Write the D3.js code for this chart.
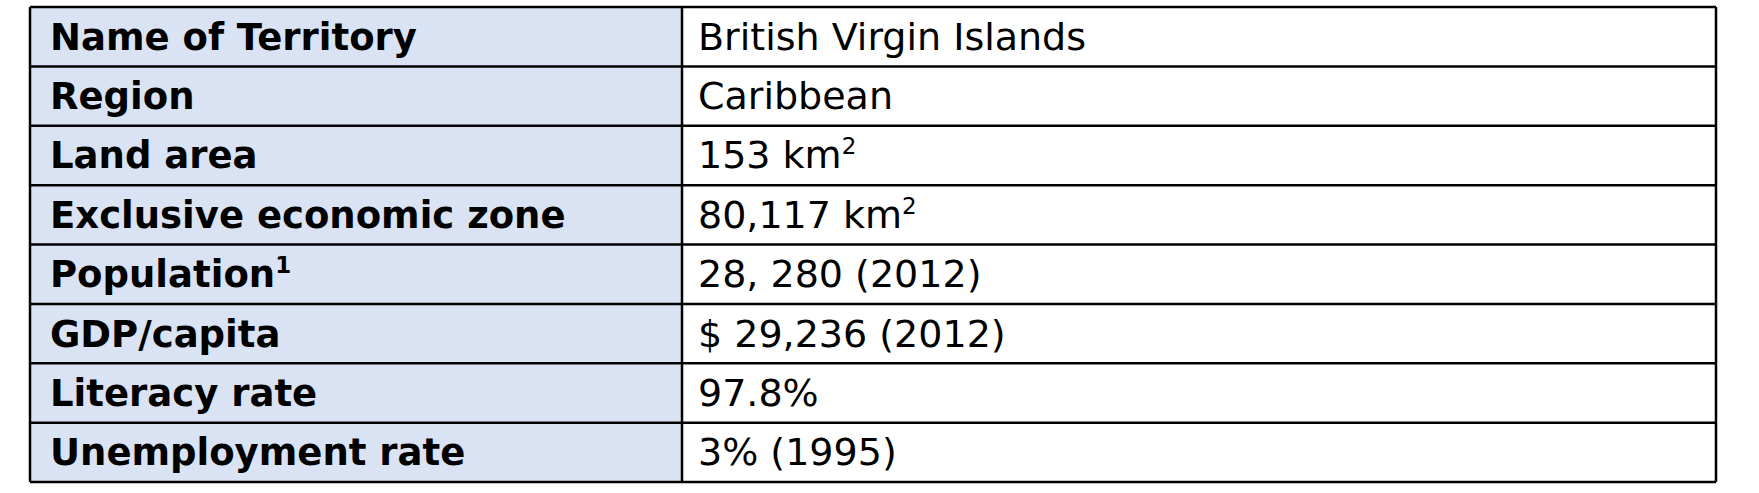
<!DOCTYPE html>
<html><head><meta charset="utf-8">
<script src="https://cdn.jsdelivr.net/npm/d3@7"></script>
<style>body{margin:0;background:#fff}</style>
</head><body><svg id="chart"></svg>
<script>
const labels = ["Name of Territory","Region","Land area","Exclusive economic zone","Population","GDP/capita","Literacy rate","Unemployment rate"];
const labelSup = ["","","","","1","","",""];
const values = ["British Virgin Islands","Caribbean","153 km","80,117 km","28, 280 (2012)","$ 29,236 (2012)","97.8%","3% (1995)"];
const valueSup = ["","","2","2","","","",""];

const W = 1759, H = 493;
const svg = d3.select('#chart').attr('width', W).attr('height', H);
const x0 = 30, xDiv = 682, x1 = 1716;
const y = d3.scaleBand().domain(d3.range(labels.length)).range([7, 482]);
const font = '"DejaVu Sans", Verdana, sans-serif';

svg.selectAll('rect.lab').data(labels).enter().append('rect')
  .attr('x', x0).attr('y', (d, i) => y(i)).attr('width', xDiv - x0).attr('height', y.bandwidth())
  .style('fill', '#dae3f3');

function addText(arr, sups, x, weight, size) {
  const t = svg.selectAll(null).data(arr).enter().append('text')
    .attr('x', x).attr('y', (d, i) => y(i) + y.bandwidth() / 2 + 13)
    .style('font-family', font).style('font-size', size + 'px').style('font-weight', weight).style('fill', '#000');
  t.append('tspan').text(d => d);
  t.append('tspan').text((d, i) => sups[i]).style('font-size', '23px').attr('dy', -14);
}
addText(labels, labelSup, 50, 'bold', 37);
addText(values, valueSup, 698, 'normal', 38);

svg.selectAll('line.h').data(d3.range(labels.length + 1)).enter().append('line')
  .attr('x1', x0).attr('x2', x1)
  .attr('y1', i => i < labels.length ? y(i) : y.range()[1])
  .attr('y2', i => i < labels.length ? y(i) : y.range()[1])
  .style('stroke', '#000').style('stroke-width', 2.5);
[x0, xDiv, x1].forEach(x => svg.append('line').attr('x1', x).attr('x2', x).attr('y1', 7).attr('y2', 482)
  .style('stroke', '#000').style('stroke-width', 2.5));
</script></body></html>
